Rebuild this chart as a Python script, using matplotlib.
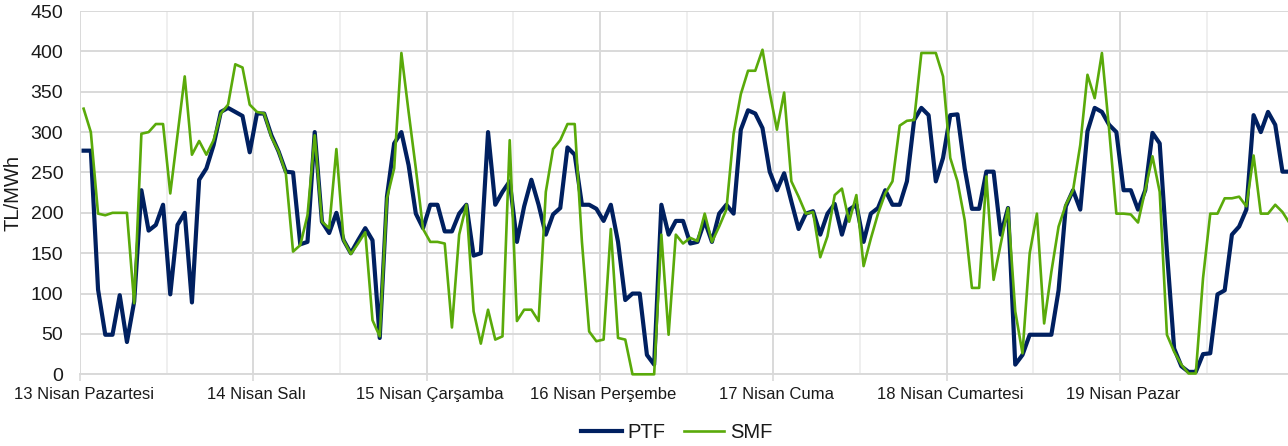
import matplotlib
matplotlib.use("Agg")
import matplotlib.pyplot as plt

# Saatlik fiyatlar, 13-19 Nisan (7 gun x 24 saat)
ptf = [277, 277, 105, 49, 49, 98, 40, 90, 228, 178, 185, 210,
       99, 185, 200, 89, 241, 255, 284, 325, 330, 325, 320, 275,
       323, 323, 296, 276, 251, 250, 161, 164, 300, 189, 175, 200,
       166, 150, 166, 181, 166, 45, 220, 286, 300, 259, 199, 181,
       210, 210, 177, 177, 199, 210, 147, 150, 300, 210, 226, 239,
       164, 208, 241, 210, 173, 198, 206, 281, 272, 210, 210, 205,
       190, 210, 164, 92, 100, 100, 24, 12, 210, 173, 190, 190,
       162, 164, 190, 164, 199, 210, 199, 303, 327, 323, 305, 251,
       228, 249, 214, 180, 199, 202, 173, 199, 211, 173, 204, 210,
       164, 199, 206, 228, 210, 210, 239, 315, 330, 321, 239, 268,
       321, 322, 255, 205, 205, 251, 251, 173, 206, 12, 24, 49,
       49, 49, 49, 104, 208, 228, 204, 301, 330, 325, 309, 300,
       228, 228, 204, 228, 299, 286, 152, 32, 10, 3, 3, 25,
       26, 99, 104, 173, 183, 204, 321, 300, 325, 309, 251, 251]

smf = [329, 300, 199, 197, 200, 200, 200, 88, 298, 300, 310, 310,
       224, 296, 369, 272, 289, 272, 290, 323, 334, 384, 380, 334,
       325, 323, 294, 276, 249, 152, 160, 197, 296, 189, 181, 279,
       166, 149, 162, 176, 67, 47, 218, 255, 398, 325, 255, 180,
       164, 164, 162, 58, 173, 210, 78, 38, 80, 43, 47, 290,
       66, 80, 80, 66, 226, 279, 290, 310, 310, 164, 53, 41,
       43, 180, 45, 43, 0, 0, 0, 0, 173, 49, 173, 162,
       169, 165, 199, 164, 183, 204, 298, 347, 376, 376, 402, 349,
       303, 349, 239, 220, 199, 201, 145, 171, 222, 230, 189, 222,
       134, 168, 199, 224, 239, 308, 314, 315, 398, 398, 398, 369,
       268, 239, 191, 107, 107, 245, 117, 162, 206, 78, 26, 150,
       199, 63, 127, 183, 210, 228, 284, 371, 342, 398, 303, 199,
       199, 198, 188, 228, 270, 226, 49, 28, 12, 1, 1, 119,
       199, 199, 218, 218, 220, 208, 271, 199, 199, 210, 201, 187]

gunler = ["13 Nisan Pazartesi", "14 Nisan Salı", "15 Nisan Çarşamba",
          "16 Nisan Perşembe", "17 Nisan Cuma", "18 Nisan Cumartesi",
          "19 Nisan Pazar"]

plt.rcParams['font.family'] = ['Liberation Sans', 'DejaVu Sans']

saat = list(range(len(ptf)))
fig = plt.figure(figsize=(12.88, 4.46), dpi=100)
ax = fig.add_axes([80 / 1288, 71.7 / 446, 1213.3 / 1288, 363.3 / 446])

# yatay izgara
ax.set_ylim(0, 450)
ax.set_yticks(range(0, 451, 50))
ax.grid(axis='y', color='#d9d9d9', linewidth=1.4)

# gun sinirlari (ana) ve ogle cizgileri (ara)
sinirlar = [24 * k - 0.5 for k in range(8)]
ax.set_xticks(sinirlar)
ax.set_xticklabels([''] * len(sinirlar))
ax.grid(axis='x', which='major', color='#d9d9d9', linewidth=1.4)
for k in range(7):
    ax.axvline(24 * k + 11.5, color='#ececec', linewidth=1.2, zorder=0.5)
ax.set_xticks([24 * k for k in range(7)], minor=True)
ax.set_xticklabels(gunler, minor=True)
ax.tick_params(axis='x', which='major', length=5, width=1.2, color='#d9d9d9', direction='out')
ax.tick_params(axis='x', which='minor', length=0, pad=9, labelsize=12, labelcolor='#1a1a1a')
ax.tick_params(axis='y', length=0, pad=12, labelsize=14, labelcolor='#1a1a1a')
ax.set_axisbelow(True)

ax.plot(saat, ptf, color='#002060', linewidth=3.0, label='PTF',
        solid_joinstyle='round', clip_on=False, zorder=3)
ax.plot(saat, smf, color='#5aaa0a', linewidth=1.9, label='SMF',
        solid_joinstyle='round', clip_on=False, zorder=4)

ax.set_xlim(-0.5, 167.5)
ax.set_ylabel('TL/MWh', fontsize=14.5, color='#1a1a1a', labelpad=6)

for s in ['top', 'right', 'left']:
    ax.spines[s].set_visible(False)
ax.spines['bottom'].set_color('#d9d9d9')
ax.spines['bottom'].set_linewidth(1.4)

fig.legend(loc='center', bbox_to_anchor=(677 / 1288, 13 / 446), ncol=2, frameon=False,
           fontsize=14.5, handlelength=2.0, handletextpad=0.3, columnspacing=0.9,
           labelcolor='#1a1a1a')

fig.savefig('out.png', dpi=100)
